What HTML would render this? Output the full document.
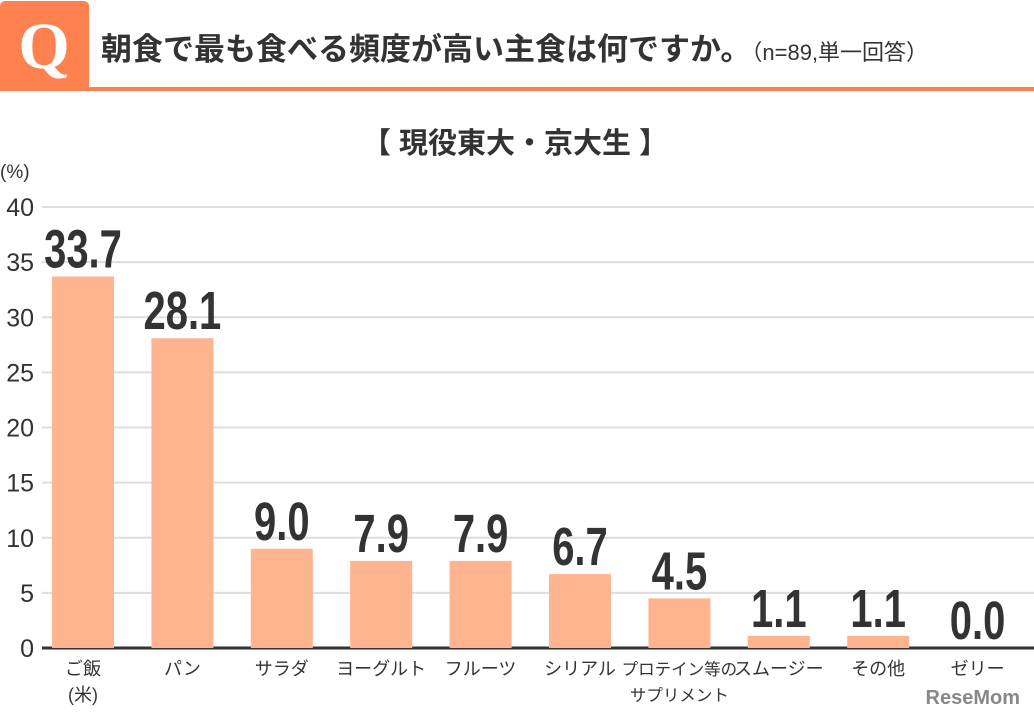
<!DOCTYPE html>
<html><head><meta charset="utf-8"><style>
body{margin:0;width:1034px;height:718px;background:#fff;overflow:hidden;font-family:"Liberation Sans","Noto Sans CJK JP",sans-serif;}
</style></head><body>
<svg width="1034" height="718" viewBox="0 0 1034 718">
<rect x="0" y="1" width="89" height="88" rx="5" fill="#ff8150"/>
<rect x="0" y="60" width="89" height="29" fill="#ff8150"/>
<text x="44" y="68" text-anchor="middle" font-family="Liberation Serif,serif" font-weight="bold" font-size="66" fill="#fff">Q</text>
<rect x="0" y="87" width="1034" height="4" fill="#ff8150"/>
<text x="101" y="60" font-size="31" font-weight="bold" fill="#333">朝食で最も食べる頻度が高い主食は何ですか。<tspan font-size="22" font-weight="normal">（n=89,単一回答）</tspan></text>
<text x="515" y="153" text-anchor="middle" font-size="29" font-weight="bold" fill="#333">【 現役東大・京大生 】</text>
<text x="0" y="178" font-size="19" fill="#333">(%)</text>
<g id="grid"></g><g id="bars"></g>
<text x="1020" y="704" text-anchor="end" font-size="20" font-weight="bold" fill="#888">ReseMom</text>
</svg>
<script>
const categories=[["ご飯","(米)"],["パン"],["サラダ"],["ヨーグルト"],["フルーツ"],["シリアル"],["プロテイン等の","サプリメント"],["スムージー"],["その他"],["ゼリー"]];
const values=[33.7,28.1,9.0,7.9,7.9,6.7,4.5,1.1,1.1,0.0];
const ticks=[0,5,10,15,20,25,30,35,40];
const NS="http://www.w3.org/2000/svg";
const y0=648,yTop=207,vmax=40;
const y=v=>y0-(y0-yTop)*v/vmax;
const x=i=>83+i*99.4;
function mk(t,a,p){const e=document.createElementNS(NS,t);for(const k in a)e.setAttribute(k,a[k]);p.appendChild(e);return e;}
const g=document.getElementById('grid'),b=document.getElementById('bars');
ticks.forEach(t=>{
 const l=mk('line',{x1:42,x2:1034,y1:y(t),y2:y(t),stroke:t===0?'#333':'#ddd','stroke-width':t===0?3:2},g);
 
 
 const tx=mk('text',{x:34,y:y(t)+9,'text-anchor':'end','font-size':25,fill:'#333'},g);
 tx.textContent=t;
 
 
});
values.forEach((v,i)=>{
 const r=mk('rect',{x:x(i)-31,y:y(v),width:62,height:y0-y(v),fill:'#fdb48f'},b);
 
 
 const t=mk('text',{x:x(i),y:y(v)-9,'text-anchor':'middle','font-size':54,'font-weight':'bold',fill:'#333',transform:`translate(${x(i)},0) scale(0.74,1) translate(${-x(i)},0)`},b);
 t.textContent=v.toFixed(1);
 
 
 categories[i].forEach((s,j)=>{
  const c=mk('text',{x:x(i),y:675+j*26,'text-anchor':'middle','font-size':i===6?16.5:18,fill:'#333'},b);
  c.textContent=s;
  
  
 });
});
</script>
</body></html>
